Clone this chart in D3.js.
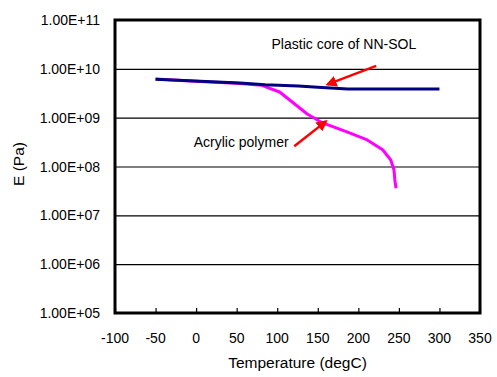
<!DOCTYPE html>
<html>
<head>
<meta charset="utf-8">
<script src="https://cdn.jsdelivr.net/npm/d3@7"></script>
<style>
    body { margin: 0; background: #fff; }
    text { font-family: 'Liberation Sans', Arial, sans-serif; fill: #000; }
    .tick-label { font-size: 14px; }
    .axis-label { font-size: 15.5px; }
    .note { font-size: 14px; }
</style>
</head>
<body>
<svg id="modulus"></svg>
<script>
//DATA
var xTicks = [-100, -50, 0, 50, 100, 150, 200, 250, 300, 350];
var yTicks = [1e5, 1e6, 1e7, 1e8, 1e9, 1e10, 1e11];

//plastic core of NN-SOL (temperature degC, E Pa)
var coreTemp = [-50, 5, 54, 85, 126, 150, 187, 300];
var coreE = [6.1e9, 5.6e9, 5.1e9, 4.7e9, 4.45e9, 4.2e9, 3.85e9, 3.85e9];

//acrylic polymer
var acrylTemp = [-50, 5, 54, 81, 103, 120, 137, 156, 186, 211, 230, 240, 244, 245, 246.5];
var acrylE = [6.2e9, 5.5e9, 5.0e9, 4.6e9, 3.35e9, 2.0e9, 1.19e9, 7.8e8, 5.1e8, 3.5e8, 2.2e8, 1.36e8, 8.5e7, 5.3e7, 3.6e7];

//annotations: text and arrow [tail, head] in data units
var notes = [
    {text: 'Plastic core of NN-SOL', x: 93, y: 2.6e10},
    {text: 'Acrylic polymer', x: -3, y: 2.5e8}
];
var arrows = [
    [[222, 1.15e10], [162, 4.8e9]],
    [[121, 2.6e8], [160, 8.4e8]]
];

function modulusChart() {
    //chart parameters
    var svg = d3.select('#modulus')
        .attr('width', 497)
        .attr('height', 377);

    var margin = {top: 20, right: 17, bottom: 64, left: 115},
        width = +svg.attr('width') - margin.left - margin.right,
        height = +svg.attr('height') - margin.top - margin.bottom;

    //define scales
    var xScale = d3.scaleLinear().domain([-100, 350]).range([0, width]),
        yScale = d3.scaleLog().domain([1e5, 1e11]).range([height, 0]);

    //exponent label like 1.00E+05
    var fmtE = function(v) {
        var p = Math.round(Math.log10(v));
        return '1.00E+' + (p < 10 ? '0' + p : p);
    };

    var canvas = svg.append('g')
        .attr('transform', 'translate(' + margin.left + ',' + margin.top + ')');

    //arrow marker
    svg.append('defs').append('marker')
        .attr('id', 'head')
        .attr('viewBox', '0 0 10 10')
        .attr('refX', 8).attr('refY', 5)
        .attr('markerWidth', 4.5).attr('markerHeight', 4.5)
        .attr('markerUnits', 'strokeWidth')
        .attr('orient', 'auto')
        .append('path')
        .attr('d', 'M0,0 L10,5 L0,10 Z')
        .attr('fill', '#ff0000');

    //y gridlines
    canvas.append('g')
        .attr('class', 'grid')
        .call(d3.axisLeft(yScale).tickValues(yTicks).tickSize(-width).tickFormat(''))
        .call(g => g.select('.domain').remove())
        .selectAll('line')
        .attr('stroke', '#000')
        .attr('stroke-width', 1.2);

    //y tick labels
    canvas.append('g')
        .selectAll('text').data(yTicks)
        .enter().append('text')
            .attr('class', 'tick-label')
            .attr('x', -15)
            .attr('y', d => yScale(d))
            .attr('dy', '0.36em')
            .attr('text-anchor', 'end')
            .text(fmtE);

    //x axis, ticks pointing inward
    canvas.append('g')
        .attr('transform', 'translate(0,' + height + ')')
        .call(d3.axisTop(xScale).tickValues(xTicks).tickSize(5).tickFormat(''))
        .call(g => g.select('.domain').remove())
        .selectAll('line')
        .attr('stroke', '#000')
        .attr('stroke-width', 1.2);

    //x tick labels
    canvas.append('g')
        .selectAll('text').data(xTicks)
        .enter().append('text')
            .attr('class', 'tick-label')
            .attr('x', d => xScale(d))
            .attr('y', height + 30)
            .attr('text-anchor', 'middle')
            .text(d => d);

    //frame
    canvas.append('rect')
        .attr('width', width)
        .attr('height', height)
        .attr('fill', 'none')
        .attr('stroke', '#000')
        .attr('stroke-width', 3);

    //series lines
    var line = d3.line()
        .x(d => xScale(d[0]))
        .y(d => yScale(d[1]));

    canvas.append('path')
        .datum(acrylTemp.map((t, i) => [t, acrylE[i]]))
        .attr('d', line)
        .attr('fill', 'none')
        .attr('stroke', '#ff00ff')
        .attr('stroke-width', 3)
        .attr('stroke-linejoin', 'round');

    canvas.append('path')
        .datum(coreTemp.map((t, i) => [t, coreE[i]]))
        .attr('d', line)
        .attr('fill', 'none')
        .attr('stroke', '#000080')
        .attr('stroke-width', 3)
        .attr('stroke-linejoin', 'round');

    //annotation arrows
    canvas.selectAll('.arrow').data(arrows)
        .enter().append('line')
            .attr('class', 'arrow')
            .attr('x1', d => xScale(d[0][0]))
            .attr('y1', d => yScale(d[0][1]))
            .attr('x2', d => xScale(d[1][0]))
            .attr('y2', d => yScale(d[1][1]))
            .attr('stroke', '#ff0000')
            .attr('stroke-width', 2.5)
            .attr('marker-end', 'url(#head)');

    //annotation text
    canvas.selectAll('.note').data(notes)
        .enter().append('text')
            .attr('class', 'note')
            .attr('x', d => xScale(d.x))
            .attr('y', d => yScale(d.y))
            .text(d => d.text);

    //axis labels
    canvas.append('text')
        .attr('class', 'axis-label')
        .attr('x', width / 2)
        .attr('y', height + 55)
        .attr('text-anchor', 'middle')
        .text('Temperature (degC)');

    canvas.append('text')
        .attr('class', 'axis-label')
        .attr('transform', 'translate(' + (-91) + ',' + 144 + ') rotate(-90)')
        .attr('text-anchor', 'middle')
        .text('E (Pa)');
}

modulusChart();
</script>
</body>
</html>
